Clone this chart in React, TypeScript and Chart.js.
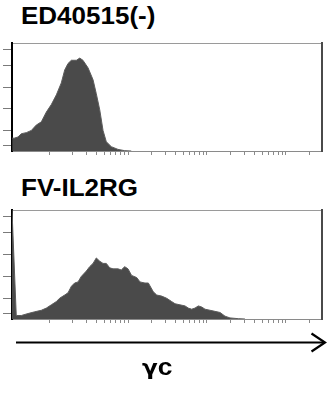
import React, { useEffect, useRef } from "react";
import { Chart, registerables } from "chart.js";

Chart.register(...registerables);

// ---- data -----------------------------------------------------------
const panelTitles = ["ED40515(-)", "FV-IL2RG"];
const axisLabelGreek = "γ";
const axisLabelLatin = "c";

// fluorescence intensity (log axis) and relative cell count (% of max)
const ed40515Fluor = [
  3.42, 3.61, 4.05, 4.46, 5.16, 5.97, 6.9, 8.0, 9.25, 10.7, 12.4, 14.3, 15.8, 17.4,
  19.2, 22.2, 24.5, 26.9, 31.2, 36.1, 39.7, 43.9, 48.3, 53.1, 61.5, 74.7, 90.8, 110,
];
const ed40515Count = [
  12, 11.8, 13, 16, 17, 19, 24, 27, 36, 43, 52, 63, 75, 81,
  84, 84, 86, 84, 77, 66, 53, 38, 19, 8.6, 4, 1.5, 0.3, 0,
];

const fvFluor = [
  3.40, 3.85, 4.46, 5.42, 6.59, 8.0, 9.25, 10.7, 12.4, 13.6, 15.8, 17.4, 19.2, 21.1,
  23.3, 25.6, 29.7, 32.7, 36.1, 39.7, 43.9, 48.3, 53.1, 58.6, 64.6, 74.7, 82.2, 90.8,
  100, 111, 129, 142, 164, 181, 209, 231, 267, 309, 357, 394, 455, 527, 580, 640,
  705, 776, 857, 944, 1092, 1263, 1461, 1690, 1955, 2489, 3027,
];
const fvCount = [
  100, 3.2, 3.2, 5, 6.6, 8, 10, 13, 16, 19, 22, 24, 30, 33,
  34, 39, 44, 48, 51, 56, 53, 51, 51, 47, 46, 46, 45, 48,
  46, 40, 38, 34, 33, 33, 25, 22, 21, 19, 16, 14, 13, 12, 10, 9,
  10, 12, 11, 9, 8, 7, 6, 2.6, 1, 0.3, 0,
];

const xMin = 3.401;
const xMax = 28560;
const xTickValues = [
  10, 20, 30, 40, 50, 60, 70, 80, 90,
  100, 200, 300, 400, 500, 600, 700, 800, 900,
  1000, 2000, 3000, 4000, 5000, 6000, 7000, 8000, 9000,
  10000, 20000,
];
const yTickValues = [5, 19, 39, 59, 79, 94];

// ---- components -------------------------------------------------------
type PanelProps = { xs: number[]; ys: number[]; top: number; bottomPad: number };

function HistPanel({ xs, ys, top, bottomPad }: PanelProps) {
  const ref = useRef<HTMLCanvasElement | null>(null);
  useEffect(() => {
    if (!ref.current) return;
    const points = xs.map((x, i) => ({ x, y: ys[i] }));
    const chart = new Chart(ref.current, {
      type: "line",
      data: {
        datasets: [
          {
            data: points,
            fill: "origin",
            backgroundColor: "#4a4a4a",
            borderColor: "#5c5c5c",
            borderWidth: 1,
            pointRadius: 0,
            tension: 0,
          },
        ],
      },
      options: {
        animation: false,
        responsive: false,
        maintainAspectRatio: false,
        devicePixelRatio: 1,
        layout: { padding: { left: 3, right: 6, top: 7, bottom: bottomPad } },
        plugins: { legend: { display: false }, tooltip: { enabled: false }, title: { display: false } },
        scales: {
          x: {
            type: "logarithmic",
            position: "bottom",
            min: xMin,
            max: xMax,
            z: 1,
            afterBuildTicks: (s: any) => {
              s.ticks = xTickValues.map((v) => ({ value: v }));
            },
            ticks: { display: false },
            grid: { drawOnChartArea: false, drawTicks: true, tickLength: 4, color: "#8a8a8a", lineWidth: 1 },
            border: { display: true, color: "#8a8a8a", width: 1 },
          },
          x2: {
            type: "logarithmic",
            position: "top",
            min: xMin,
            max: xMax,
            z: 1,
            ticks: { display: false },
            grid: { display: false, drawTicks: false },
            border: { display: true, color: "#9a9a9a", width: 1 },
          },
          y: {
            type: "linear",
            position: "left",
            min: 0,
            max: 100,
            z: 1,
            afterBuildTicks: (s: any) => {
              s.ticks = yTickValues.map((v) => ({ value: v }));
            },
            ticks: { display: false },
            grid: { drawOnChartArea: false, drawTicks: true, tickLength: 9, color: "#7a7a7a", lineWidth: 1 },
            border: { display: true, color: "#000000", width: 2 },
          },
          y2: {
            type: "linear",
            position: "right",
            min: 0,
            max: 100,
            z: 1,
            ticks: { display: false },
            grid: { display: false, drawTicks: false },
            border: { display: true, color: "#4a4a4a", width: 2 },
          },
        },
      } as any,
    });
    return () => chart.destroy();
  }, [xs, ys]);
  return (
    <canvas
      ref={ref}
      width={328}
      height={126}
      style={{ position: "absolute", left: 0, top, width: 328, height: 126 }}
    />
  );
}

const titleStyle: React.CSSProperties = {
  position: "absolute",
  left: 21,
  fontFamily: '"Liberation Sans", Arial, sans-serif',
  fontWeight: "bold",
  fontSize: 23,
  lineHeight: 1,
  whiteSpace: "nowrap",
  color: "#000",
  transform: "scaleX(1.13)",
  transformOrigin: "left top",
};

export default function App() {
  return (
    <div
      style={{
        position: "fixed",
        left: 0,
        top: 0,
        width: 328,
        height: 394,
        background: "#fff",
        overflow: "hidden",
      }}
    >
      <div style={{ ...titleStyle, top: 5 }}>{panelTitles[0]}</div>
      <HistPanel xs={ed40515Fluor} ys={ed40515Count} top={36} bottomPad={7} />
      <div style={{ ...titleStyle, top: 177 }}>{panelTitles[1]}</div>
      <HistPanel xs={fvFluor} ys={fvCount} top={203} bottomPad={6} />
      <svg
        width={328}
        height={394}
        style={{ position: "absolute", left: 0, top: 0, pointerEvents: "none" }}
      >
        <line x1={16} y1={342.5} x2={324} y2={342.5} stroke="#000" strokeWidth={2.2} />
        <polyline
          points="311.5,333.5 325,342.5 311.5,351.5"
          fill="none"
          stroke="#000"
          strokeWidth={2.2}
        />
      </svg>
      <div style={{ ...titleStyle, left: 142, top: 355, fontSize: 24, transform: "scaleX(1.1)" }}>
        <span style={{ fontFamily: '"DejaVu Sans", sans-serif', fontSize: 21 }}>{axisLabelGreek}</span>
        {axisLabelLatin}
      </div>
    </div>
  );
}
